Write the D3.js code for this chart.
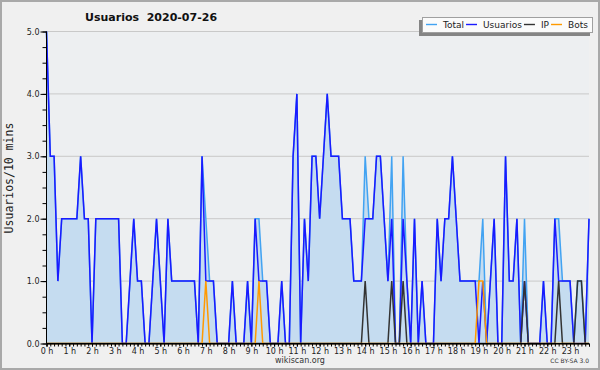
<!DOCTYPE html>
<html>
<head>
<meta charset="utf-8">
<script src="https://cdn.jsdelivr.net/npm/d3@7"></script>
<style>
  body { margin: 0; background: #f0f0f0; }
  svg { display: block; font-family: "DejaVu Sans", sans-serif; }
</style>
</head>
<body>
<svg width="600" height="370"></svg>
<script>
// one value every 10 minutes, 00:00 -> 23:50 (6 per hour, 2 hours per row)
var usuarios = [
  5,3,3,1,2,2, 2,2,2,3,2,2,
  0,2,2,2,2,2, 2,2,0,0,1,2,
  1,1,0,0,1,2, 1,0,2,1,1,1,
  1,1,1,1,0,3, 1,1,1,0,0,0,
  0,1,0,0,0,1, 0,2,1,1,1,0,
  0,0,1,0,0,3, 4,0,2,1,3,3,
  2,3,4,3,3,3, 2,2,2,1,1,1,
  2,2,2,3,3,2, 1,2,0,0,2,1,
  0,2,0,1,0,0, 0,2,1,2,2,3,
  2,1,1,1,1,1, 0,1,0,1,2,0,
  0,3,1,1,2,0, 1,0,0,0,0,1,
  0,0,2,1,1,1, 1,0,0,0,0,2
];
var total = [
  5,3,3,1,2,2, 2,2,2,3,2,2,
  0,2,2,2,2,2, 2,2,0,0,1,2,
  1,1,0,0,1,2, 1,0,2,1,1,1,
  1,1,1,1,0,3, 2,1,1,0,0,0,
  0,1,0,0,0,1, 0,2,2,1,1,0,
  0,0,1,0,0,3, 4,0,2,1,3,3,
  2,3,4,3,3,3, 2,2,2,1,1,1,
  3,2,2,3,3,2, 1,3,0,0,3,1,
  0,2,0,1,0,0, 0,2,1,2,2,3,
  2,1,1,1,1,1, 1,2,0,1,2,0,
  0,3,1,1,2,0, 2,0,0,0,0,1,
  0,0,2,2,1,1, 1,0,1,1,0,2
];
var ip = [
  0,0,0,0,0,0, 0,0,0,0,0,0,
  0,0,0,0,0,0, 0,0,0,0,0,0,
  0,0,0,0,0,0, 0,0,0,0,0,0,
  0,0,0,0,0,0, 0,0,0,0,0,0,
  0,0,0,0,0,0, 0,0,0,0,0,0,
  0,0,0,0,0,0, 0,0,0,0,0,0,
  0,0,0,0,0,0, 0,0,0,0,0,0,
  1,0,0,0,0,0, 0,1,0,0,1,0,
  0,0,0,0,0,0, 0,0,0,0,0,0,
  0,0,0,0,0,0, 0,0,0,0,0,0,
  0,0,0,0,0,0, 1,0,0,0,0,0,
  0,0,0,1,0,0, 0,0,1,1,0,0
];
var bots = [
  0,0,0,0,0,0, 0,0,0,0,0,0,
  0,0,0,0,0,0, 0,0,0,0,0,0,
  0,0,0,0,0,0, 0,0,0,0,0,0,
  0,0,0,0,0,0, 1,0,0,0,0,0,
  0,0,0,0,0,0, 0,0,1,0,0,0,
  0,0,0,0,0,0, 0,0,0,0,0,0,
  0,0,0,0,0,0, 0,0,0,0,0,0,
  0,0,0,0,0,0, 0,0,0,0,0,0,
  0,0,0,0,0,0, 0,0,0,0,0,0,
  0,0,0,0,0,0, 1,1,0,0,0,0,
  0,0,0,0,0,0, 0,0,0,0,0,0,
  0,0,0,0,0,0, 0,0,0,0,0,0
];
var hourLabels = ["0 h","1 h","2 h","3 h","4 h","5 h","6 h","7 h","8 h","9 h","10 h","11 h",
                  "12 h","13 h","14 h","15 h","16 h","17 h","18 h","19 h","20 h","21 h","22 h","23 h"];
var yTicks = [0, 1, 2, 3, 4, 5];

(function() {
  var svg = d3.select("svg"),
    width = +svg.attr("width"),
    height = +svg.attr("height");

  var series = [
    {name: "Total", values: total, color: "#42a3f2"},
    {name: "Usuarios", values: usuarios, color: "#1a1aff"},
    {name: "IP", values: ip, color: "#333333"},
    {name: "Bots", values: bots, color: "#ff9a00"}
  ];

  var x = d3.scaleLinear()
      .domain([0, usuarios.length - 1])
      .range([46.5, 589]);

  var y = d3.scaleLinear()
      .domain([0, 5])
      .range([343.5, 31.5]);

  // frame
  svg.append("rect")
      .attr("x", 1).attr("y", 1)
      .attr("width", width - 2).attr("height", height - 2)
      .attr("fill", "#f0f0f0")
      .attr("stroke", "#a9a9a9")
      .attr("stroke-width", 2);

  svg.append("rect")
      .attr("x", x.range()[0]).attr("y", y(5))
      .attr("width", x.range()[1] - x.range()[0])
      .attr("height", y(0) - y(5))
      .attr("fill", "#edeff1");

  // grid
  svg.append("g")
    .selectAll("line")
    .data(yTicks.slice(1))
    .enter().append("line")
      .attr("x1", x.range()[0])
      .attr("x2", x.range()[1])
      .attr("y1", function(d) { return y(d); })
      .attr("y2", function(d) { return y(d); })
      .attr("stroke", "#c9c9c9")
      .attr("stroke-width", 1);

  // area under total
  var area = d3.area()
      .x(function(d, i) { return x(i); })
      .y0(y(0))
      .y1(function(d) { return y(d); });

  svg.append("path")
      .datum(total)
      .attr("fill", "#c5dcf0")
      .attr("d", area);

  var line = d3.line()
      .x(function(d, i) { return x(i); })
      .y(function(d) { return y(d); });

  svg.append("g")
    .selectAll("path")
    .data(series)
    .enter().append("path")
      .attr("fill", "none")
      .attr("stroke", function(d) { return d.color; })
      .attr("stroke-width", 1.5)
      .attr("stroke-linejoin", "miter")
      .attr("d", function(d) { return line(d.values); });

  // y axis: minor ticks every 0.25, labels on integers
  svg.append("g")
      .attr("transform", "translate(" + x.range()[0] + ",0)")
      .call(d3.axisLeft(y)
        .tickValues(d3.range(0, 5.01, 0.25))
        .tickSize(4)
        .tickFormat(""))
    .select(".domain").remove();

  var yAxis = svg.append("g")
      .attr("transform", "translate(" + x.range()[0] + ",0)")
      .call(d3.axisLeft(y)
        .tickValues(yTicks)
        .tickSize(6)
        .tickPadding(1)
        .tickFormat(d3.format(".1f")));
  yAxis.select(".domain").attr("d", "M0," + y(5) + "V" + y(0));
  yAxis.selectAll("text").attr("font-size", 8).attr("fill", "#222").attr("font-family", "DejaVu Sans");

  // x axis: tick every 10 min, label every hour
  svg.append("g")
      .attr("transform", "translate(0," + y(0) + ")")
      .call(d3.axisBottom(x)
        .tickValues(d3.range(usuarios.length))
        .tickSize(3)
        .tickFormat(""));

  var xAxis = svg.append("g")
      .attr("transform", "translate(0," + y(0) + ")")
      .call(d3.axisBottom(x)
        .tickValues(d3.range(0, usuarios.length, 6))
        .tickSize(3)
        .tickPadding(2)
        .tickFormat(function(d) { return hourLabels[d / 6]; }));
  xAxis.select(".domain").attr("d", "M" + x.range()[0] + ",0H" + x.range()[1]);
  xAxis.selectAll("text").attr("font-size", 8).attr("fill", "#222").attr("font-family", "DejaVu Sans");

  // titles
  svg.append("text")
      .attr("x", 85).attr("y", 21)
      .attr("font-size", 11)
      .attr("font-weight", "bold")
      .attr("fill", "#111")
      .attr("xml:space", "preserve")
      .style("white-space", "pre")
      .text("Usuarios  2020-07-26");

  svg.append("text")
      .attr("transform", "translate(13,178) rotate(-90)")
      .attr("text-anchor", "middle")
      .attr("font-family", "DejaVu Sans Mono")
      .attr("font-size", 11.5)
      .attr("fill", "#222")
      .text("Usuarios/10 mins");

  svg.append("text")
      .attr("x", 300).attr("y", 363)
      .attr("text-anchor", "middle")
      .attr("font-size", 8)
      .attr("fill", "#333")
      .text("wikiscan.org");

  svg.append("text")
      .attr("x", 589).attr("y", 363)
      .attr("text-anchor", "end")
      .attr("font-size", 6)
      .attr("fill", "#333")
      .text("CC BY-SA 3.0");

  // legend
  var lg = svg.append("g");
  lg.append("rect")
      .attr("x", 419).attr("y", 20)
      .attr("width", 171).attr("height", 16)
      .attr("fill", "#858585");
  lg.append("rect")
      .attr("x", 422.5).attr("y", 17.5)
      .attr("width", 170).attr("height", 15)
      .attr("fill", "#fbfbfb")
      .attr("stroke", "#a0a0a0");

  var cx = 426;
  series.forEach(function(s) {
    lg.append("line")
        .attr("x1", cx).attr("x2", cx + 11)
        .attr("y1", 24.5).attr("y2", 24.5)
        .attr("stroke", s.color)
        .attr("stroke-width", 1.4);
    var t = lg.append("text")
        .attr("x", cx + 17).attr("y", 28)
        .attr("font-size", 9)
        .attr("fill", "#222")
        .text(s.name);
    cx += 17 + t.node().getComputedTextLength() + 2;
  });
})();
</script>
</body>
</html>
